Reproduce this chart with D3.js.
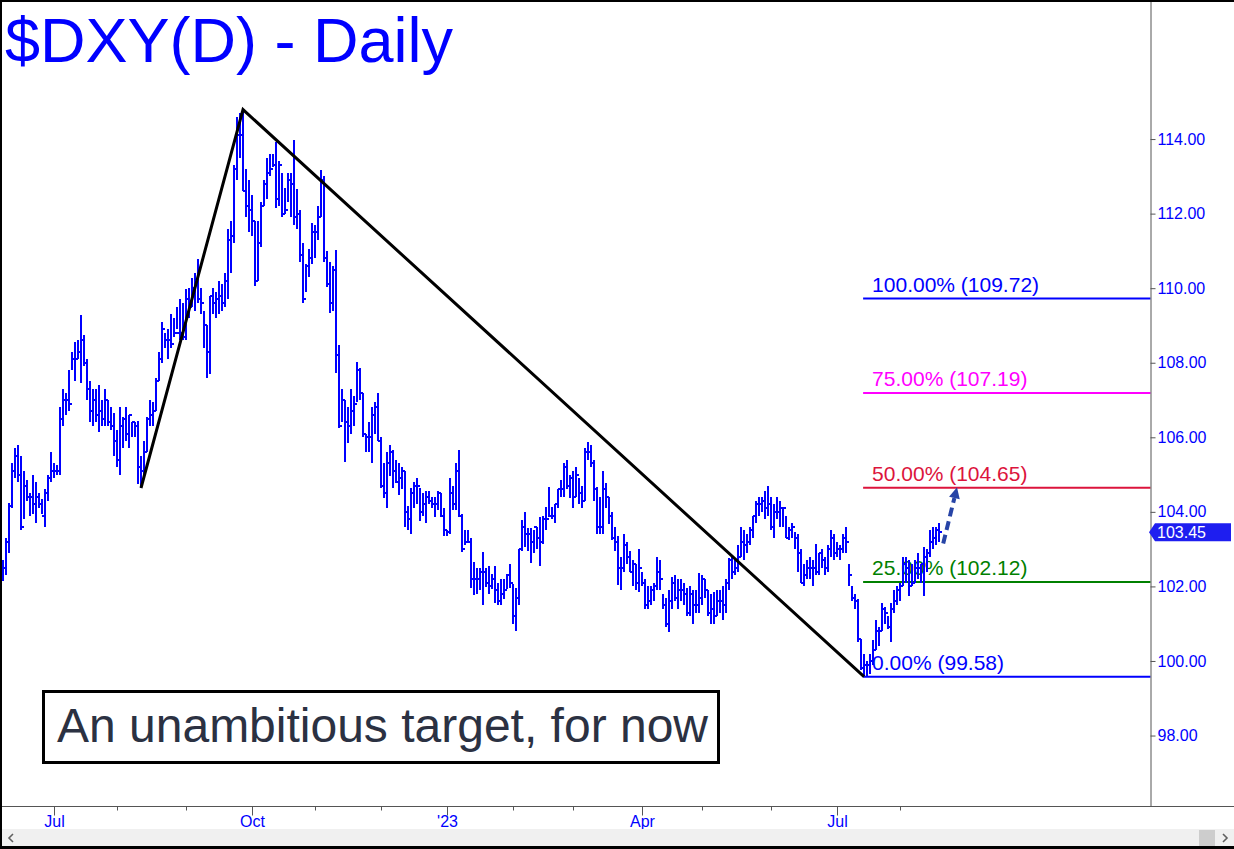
<!DOCTYPE html>
<html>
<head>
<meta charset="utf-8">
<script src="https://cdn.jsdelivr.net/npm/d3@7"></script>
<style>
  body { margin: 0; background: #fff; }
  svg { display: block; }
</style>
</head>
<body>
<svg width="1234" height="849"></svg>
<script>
// daily bars, one per trading day from 8 Jun 2022 to 18 Aug 2023
var highs = [
  102.7, 103.3, 104.25, 105.3, 105.7, 105.8, 105.5, 105.1, 104.85, 104.5, 105.0, 104.8, 104.5, 104.35, 104.6, 105.0, 105.6,
  105.3, 105.25, 106.8, 107.3, 107.2, 107.8, 108.3, 108.55, 108.6, 109.29, 108.75, 108.1, 107.5, 107.3, 107.3, 107.4, 107.0, 107.3, 107.0, 106.8, 106.65,
  106.2, 106.8, 106.55, 106.8, 106.6, 106.4, 106.4, 106.45, 105.5, 105.9, 106.55, 107.0, 106.95, 107.6, 108.3, 109.1, 108.8, 108.9, 109.3, 109.2, 109.5, 109.7, 109.6,
  109.99, 110.0, 110.27, 110.4, 110.79, 110.0, 109.4, 109.0, 109.8, 110.0, 109.9, 110.2, 110.1, 110.4, 111.6, 111.8, 113.3, 114.58, 114.7, 114.79, 113.2, 112.9,
  112.5, 111.8, 111.8, 112.3, 112.9, 113.5, 113.6, 113.6, 113.93, 113.4, 113.1, 112.7, 113.1, 113.1, 113.98, 112.67, 112.1, 111.2, 110.65, 111.06, 111.75,
  111.7, 112.2, 113.18, 113.0, 111.0, 110.7, 110.6, 111.03, 108.48, 107.3, 107.0, 106.8, 107.3, 107.1, 108.03, 107.85, 107.2, 106.1, 106.4, 106.8, 106.95, 107.2,
  106.0, 105.3, 105.6, 105.8, 105.66, 105.4, 105.3, 105.2, 105.1, 104.15, 104.65, 104.8, 104.9, 104.65, 104.5, 104.55, 104.55, 104.4, 104.4, 104.55, 104.5, 104.1,
  103.5, 104.9, 104.7, 105.3, 105.66, 103.95, 103.5, 103.5, 103.3, 102.66, 102.5, 102.5, 102.92, 102.5, 102.55, 102.34, 102.55, 102.1, 102.2, 102.2, 102.34, 102.6,
  102.07, 101.97, 103.0, 103.78, 104.0, 103.57, 103.57, 103.5, 103.6, 103.87, 103.9, 104.12, 104.66, 104.12, 104.2, 104.6, 104.85, 105.3, 105.39, 105.0,
  105.1, 105.2, 104.9, 104.7, 105.7, 105.87, 105.8, 105.39, 104.66, 104.39, 105.1, 104.77, 104.4, 104.0, 103.6, 103.35, 102.8, 103.4, 103.2, 102.95, 102.7, 102.6, 103.0,
  102.4, 102.2, 102.0, 102.0, 102.1, 102.8, 102.7, 101.8, 101.7, 101.9, 102.25, 102.3, 102.2, 102.2, 102.1, 101.95, 102.0, 101.9, 101.9, 102.35,
  102.3, 102.2, 101.9, 101.8, 101.85, 101.9, 101.9, 102.0, 102.2, 102.75, 102.8, 102.7, 103.1, 103.6, 103.5, 103.4, 103.6, 103.9, 104.3, 104.4, 104.4, 104.55, 104.7,
  104.4, 104.2, 104.4, 104.3, 104.1, 103.9, 103.6, 103.7, 103.45, 103.4, 103.0, 102.6, 102.7, 102.8, 102.7, 103.15, 102.9, 103.0, 102.8, 103.1, 103.5, 103.4,
  103.2, 103.1, 103.4, 103.6, 102.6, 102.0, 101.8, 101.65, 100.6, 100.2, 100.0, 100.2, 100.55, 101.1, 100.9, 101.55, 101.45, 101.2, 101.55, 101.9, 102.0,
  102.1, 102.8, 102.8, 102.7, 102.6, 102.7, 102.9, 102.6, 103.05, 103.0, 103.5, 103.6, 103.6, 103.7
];
var lows = [
  102.15, 102.3, 102.9, 104.1, 104.9, 104.8, 103.5, 103.8, 104.3, 103.9, 103.95, 103.7, 104.1, 103.95, 103.6, 104.3, 104.8,
  104.9, 105.0, 105.0, 106.3, 106.6, 106.7, 107.8, 107.5, 108.1, 107.45, 107.9, 107.0, 106.4, 106.3, 106.4, 106.15, 106.3, 106.3, 106.3, 106.2, 105.5,
  105.2, 105.0, 105.7, 105.9, 105.7, 106.0, 106.0, 104.75, 104.64, 105.0, 105.6, 106.3, 106.3, 106.7, 107.5, 108.0, 108.4, 108.1, 108.4, 108.7, 108.9, 108.6, 108.6,
  108.6, 109.2, 109.5, 109.4, 109.6, 109.3, 108.4, 107.6, 107.7, 109.3, 109.2, 109.3, 109.4, 109.5, 109.7, 110.4, 111.2, 112.9, 113.5, 112.6, 111.9, 111.5,
  111.4, 110.05, 110.2, 111.1, 112.2, 112.4, 113.0, 113.25, 112.16, 112.2, 111.92, 112.0, 112.3, 111.92, 111.7, 111.6, 110.7, 109.6, 109.9, 110.3, 110.65,
  110.8, 111.3, 111.9, 110.7, 110.04, 109.34, 109.4, 107.72, 106.25, 106.4, 105.34, 105.85, 106.1, 106.3, 106.95, 107.0, 106.0, 105.6, 105.6, 105.3, 106.1, 105.9,
  104.65, 104.37, 104.1, 104.95, 104.65, 104.78, 104.45, 104.6, 103.6, 103.5, 103.4, 104.1, 104.2, 103.75, 103.9, 103.7, 104.2, 104.1, 103.85, 104.05, 103.85, 103.35,
  103.35, 103.4, 104.05, 104.05, 103.85, 102.92, 103.1, 103.2, 101.95, 101.76, 101.8, 101.9, 101.5, 101.98, 101.8, 101.93, 101.55, 101.5, 101.5, 101.67, 101.93, 101.97,
  101.0, 100.8, 101.5, 102.95, 103.05, 102.95, 102.62, 102.9, 103.0, 102.56, 103.15, 103.5, 103.87, 103.8, 103.7, 104.1, 104.39, 104.4, 104.6, 104.37,
  104.1, 104.4, 104.2, 104.1, 104.3, 105.4, 105.2, 104.3, 103.4, 103.4, 103.4, 104.1, 103.67, 103.25, 102.95, 102.03, 101.9, 102.4, 102.6, 102.4, 102.0, 101.9, 101.85,
  102.0, 101.4, 101.4, 101.5, 101.6, 101.9, 101.9, 101.4, 100.9, 100.79, 101.4, 101.6, 101.4, 101.6, 101.5, 101.2, 101.2, 101.0, 101.3, 101.3,
  101.5, 101.7, 101.2, 101.0, 101.0, 101.2, 101.3, 101.1, 101.3, 101.9, 102.2, 102.3, 102.4, 102.8, 102.7, 102.9, 103.1, 103.3, 103.7, 103.9, 104.0, 103.8, 103.9,
  103.5, 103.3, 103.8, 103.6, 103.6, 103.3, 103.25, 103.3, 103.0, 102.4, 102.1, 102.0, 102.2, 102.2, 102.0, 102.3, 102.3, 102.5, 102.3, 102.4, 102.8, 102.7,
  102.8, 102.7, 102.9, 102.9, 102.0, 101.6, 101.4, 100.5, 99.75, 99.58, 99.6, 99.65, 99.9, 100.3, 100.4, 100.8, 101.0, 100.85, 100.5, 101.3, 101.5,
  101.6, 102.0, 102.1, 101.75, 102.0, 102.1, 102.2, 102.1, 101.75, 102.4, 102.8, 103.0, 103.1, 103.2
];
var closes = [
  102.5, 103.2, 104.15, 105.1, 105.5, 105.0, 103.6, 104.7, 104.4, 104.4, 104.2, 104.4, 104.2, 103.9, 104.5, 104.9, 105.1,
  105.1, 105.1, 106.5, 107.0, 107.0, 106.9, 108.1, 108.1, 108.3, 108.6, 108.0, 107.3, 106.7, 107.0, 106.6, 106.7, 106.5, 107.0, 106.4, 106.3, 105.9,
  105.4, 106.3, 106.5, 106.1, 106.6, 106.4, 106.3, 105.2, 105.1, 105.6, 106.5, 106.6, 106.7, 107.5, 108.1, 108.9, 108.6, 108.6, 108.5, 108.8, 108.8, 108.8, 108.7,
  109.7, 109.5, 110.0, 110.2, 109.7, 109.6, 109.0, 108.3, 109.8, 109.6, 109.7, 109.8, 109.6, 110.2, 111.3, 111.4, 113.2, 114.1, 114.1, 112.6, 112.2, 112.1,
  111.8, 110.2, 111.2, 112.2, 112.8, 113.1, 113.2, 113.3, 112.4, 113.3, 112.0, 112.1, 112.9, 112.8, 111.9, 112.0, 110.9, 109.7, 110.6, 110.8, 111.5,
  111.5, 111.9, 112.9, 110.8, 110.1, 109.6, 110.5, 108.2, 106.3, 107.0, 106.4, 106.3, 106.7, 106.9, 107.8, 107.2, 106.1, 106.0, 106.0, 106.6, 106.8, 105.9,
  104.7, 104.5, 105.3, 105.6, 105.1, 104.8, 104.9, 105.1, 104.0, 103.8, 104.5, 104.7, 104.7, 104.0, 104.2, 104.4, 104.3, 104.2, 104.2, 104.5, 103.9, 103.5,
  103.45, 104.5, 104.2, 105.1, 103.9, 103.0, 103.2, 103.2, 102.2, 102.2, 102.2, 102.4, 102.4, 102.1, 102.0, 102.2, 101.9, 101.6, 101.8, 101.9, 102.3, 102.1,
  101.2, 101.7, 103.0, 103.6, 103.4, 103.4, 103.2, 103.6, 103.3, 103.2, 103.8, 103.8, 103.9, 103.9, 104.2, 104.6, 104.6, 105.2, 104.7, 104.9,
  104.4, 105.0, 104.5, 104.3, 105.6, 105.6, 105.3, 104.6, 103.6, 103.6, 104.6, 104.4, 103.9, 103.3, 103.2, 102.5, 102.5, 103.1, 102.8, 102.4, 102.6, 102.1, 102.5,
  102.1, 101.5, 101.6, 101.9, 102.0, 102.4, 102.2, 101.5, 101.0, 101.6, 102.1, 101.7, 101.9, 101.9, 101.8, 101.3, 101.8, 101.5, 101.5, 101.7,
  102.2, 101.9, 101.3, 101.4, 101.2, 101.6, 101.6, 101.5, 102.1, 102.7, 102.4, 102.5, 102.8, 103.2, 103.1, 103.2, 103.5, 103.9, 104.2, 104.2, 104.3, 104.1, 104.2,
  103.6, 104.0, 104.0, 104.1, 104.1, 103.3, 103.5, 103.6, 103.3, 102.9, 102.1, 102.3, 102.5, 102.5, 102.5, 102.4, 102.9, 102.7, 102.5, 103.0, 103.3, 102.9,
  103.0, 103.0, 103.3, 103.2, 102.3, 101.7, 101.6, 100.6, 99.8, 99.9, 99.9, 100.0, 100.3, 100.8, 100.8, 101.4, 101.3, 100.9, 101.4, 101.6, 101.9,
  102.0, 102.6, 102.5, 102.0, 102.1, 102.5, 102.5, 102.6, 102.8, 102.9, 103.2, 103.3, 103.5, 103.45
];
var lastPrice = 103.45;

// month ticks: bar index where each month starts
var monthStartIdx = [17, 38, 61, 83, 104, 126, 148, 170, 190, 213, 233, 256, 278, 299];
var monthLabels = ["Jul", "", "", "Oct", "", "", "'23", "", "", "Apr", "", "", "Jul", ""];
var yTicks = [98, 100, 102, 104, 106, 108, 110, 112, 114];

// A-B-C swing (bar index, price)
var abcIdx = [46, 80, 287];
var abcVal = [104.64, 114.79, 99.58];

// fib targets
var fibPct = ["100.00%", "75.00%", "50.00%", "25.00%", "0.00%"];
var fibVal = [109.72, 107.19, 104.65, 102.12, 99.58];
var fibColor = ["#0000ff", "#ff00ff", "#dc143c", "#008000", "#0000ff"];
var fibStartIdx = 286.7;

// projected path (bar index, price)
var arrowIdx = [313.4, 318];
var arrowVal = [103.15, 104.66];

var font = "'Liberation Sans', Arial, sans-serif";

var svg = d3.select("svg"),
    width = +svg.attr("width"),
    height = +svg.attr("height"),
    axisX = 1150.5,
    axisY = 806;

var x = d3.scaleLinear().domain([0, 382.33]).range([3, 1150]);
var y = d3.scaleLinear().domain([96.11, 117.73]).range([axisY, 0]);

svg.append("rect").attr("width", width).attr("height", height).attr("fill", "#fff");

// title
svg.append("text")
    .attr("x", 5)
    .attr("y", 62)
    .attr("font-family", font)
    .attr("font-size", 63)
    .attr("fill", "#0000ff")
    .text("$DXY(D) - Daily");

// fib lines and labels (bars are drawn over them)
var fib = svg.append("g");
fib.selectAll("line")
    .data(fibVal)
    .enter().append("line")
    .attr("x1", x(fibStartIdx))
    .attr("x2", axisX)
    .attr("y1", function (d) { return y(d); })
    .attr("y2", function (d) { return y(d); })
    .attr("stroke", function (d, i) { return fibColor[i]; })
    .attr("stroke-width", 2);

fib.selectAll("text")
    .data(fibVal)
    .enter().append("text")
    .attr("x", x(fibStartIdx) + 9)
    .attr("y", function (d) { return y(d) - 7; })
    .attr("font-family", font)
    .attr("font-size", 21)
    .attr("fill", function (d, i) { return fibColor[i]; })
    .text(function (d, i) { return fibPct[i] + " (" + d.toFixed(2) + ")"; });

// price bars
var bars = svg.append("g")
    .attr("stroke", "#0000ff")
    .attr("stroke-width", 2)
    .attr("shape-rendering", "crispEdges");

bars.selectAll(".hl")
    .data(highs)
    .enter().append("line")
    .attr("class", "hl")
    .attr("x1", function (d, i) { return x(i); })
    .attr("x2", function (d, i) { return x(i); })
    .attr("y1", function (d) { return y(d); })
    .attr("y2", function (d, i) { return y(lows[i]); });

bars.selectAll(".cl")
    .data(closes)
    .enter().append("line")
    .attr("class", "cl")
    .attr("x1", function (d, i) { return x(i); })
    .attr("x2", function (d, i) { return x(i) + 2.5; })
    .attr("y1", function (d) { return y(d); })
    .attr("y2", function (d) { return y(d); });

// A-B-C lines
var abcLine = d3.line()
    .x(function (d) { return x(d); })
    .y(function (d, i) { return y(abcVal[i]); });

svg.append("path")
    .attr("d", abcLine(abcIdx))
    .attr("fill", "none")
    .attr("stroke", "#000")
    .attr("stroke-width", 3);

// dashed projection arrow
var ax0 = x(arrowIdx[0]), ay0 = y(arrowVal[0]),
    ax1 = x(arrowIdx[1]), ay1 = y(arrowVal[1]);
var len = Math.sqrt((ax1 - ax0) * (ax1 - ax0) + (ay1 - ay0) * (ay1 - ay0)),
    ux = (ax1 - ax0) / len, uy = (ay1 - ay0) / len,
    headLen = 11, headW = 5.5;
var bx = ax1 - ux * headLen, by = ay1 - uy * headLen;

svg.append("line")
    .attr("x1", ax0).attr("y1", ay0)
    .attr("x2", bx).attr("y2", by)
    .attr("stroke", "#2744a6")
    .attr("stroke-width", 4)
    .attr("stroke-dasharray", "9,5");

svg.append("path")
    .attr("d", "M" + ax1 + "," + ay1 +
        "L" + (bx - uy * headW) + "," + (by + ux * headW) +
        "L" + (bx + uy * headW) + "," + (by - ux * headW) + "Z")
    .attr("fill", "#2744a6");

// note box
svg.append("rect")
    .attr("x", 43.5).attr("y", 691.5)
    .attr("width", 675).attr("height", 71)
    .attr("fill", "#fff")
    .attr("stroke", "#000")
    .attr("stroke-width", 3);

svg.append("text")
    .attr("x", 57)
    .attr("y", 742)
    .attr("font-family", font)
    .attr("font-size", 48)
    .attr("fill", "#2b3142")
    .text("An unambitious target, for now");

// right price axis
var gy = svg.append("g")
    .attr("transform", "translate(" + axisX + ",0)")
    .call(d3.axisRight(y).tickValues(yTicks).tickFormat(d3.format(".2f")).tickSize(5).tickPadding(2).tickSizeOuter(0));

gy.attr("font-family", font).attr("font-size", 16);
gy.select(".domain").attr("stroke", "#555");
gy.selectAll(".tick line").attr("stroke", "#555");
gy.selectAll(".tick text").attr("fill", "#0000ff");

// last price tag
var py = y(lastPrice);
svg.append("path")
    .attr("d", "M1149," + py + "L1155," + (py - 9) + "L1231," + (py - 9) + "L1231," + (py + 9) + "L1155," + (py + 9) + "Z")
    .attr("fill", "#1e1ef0");
svg.append("text")
    .attr("x", 1157)
    .attr("y", py + 5.5)
    .attr("font-family", font)
    .attr("font-size", 16)
    .attr("fill", "#fff")
    .text(lastPrice.toFixed(2));

// time axis
svg.append("line")
    .attr("x1", 0).attr("x2", width)
    .attr("y1", axisY + 0.5).attr("y2", axisY + 0.5)
    .attr("stroke", "#555");

var gx = svg.append("g")
    .attr("transform", "translate(0," + (axisY + 0.5) + ")")
    .call(d3.axisBottom(x).tickValues(monthStartIdx).tickFormat(function (d, i) { return monthLabels[i]; }).tickSizeOuter(0));

gx.attr("font-family", font).attr("font-size", 16);
gx.select(".domain").remove();
gx.selectAll(".tick line")
    .attr("stroke", "#555")
    .attr("y2", function (d, i) { return monthLabels[i] ? 9 : 4; });
gx.selectAll(".tick text")
    .attr("fill", "#0000ff")
    .attr("y", 9);

// scrollbar
svg.append("rect").attr("x", 0).attr("y", 829).attr("width", width).attr("height", 17).attr("fill", "#f0f0f0");
svg.append("rect").attr("x", 1199).attr("y", 830).attr("width", 16).attr("height", 16).attr("fill", "#cdcdcd");
svg.append("path").attr("d", "M13,834L9,838L13,842").attr("fill", "none").attr("stroke", "#606060").attr("stroke-width", 1.6);
svg.append("path").attr("d", "M1223,834L1227,838L1223,842").attr("fill", "none").attr("stroke", "#606060").attr("stroke-width", 1.6);

// frame
svg.append("rect").attr("x", 0).attr("y", 0).attr("width", width).attr("height", 2).attr("fill", "#000");
svg.append("rect").attr("x", 0).attr("y", 0).attr("width", 2).attr("height", height).attr("fill", "#000");
svg.append("rect").attr("x", 0).attr("y", 846).attr("width", width).attr("height", 3).attr("fill", "#000");
</script>
</body>
</html>
